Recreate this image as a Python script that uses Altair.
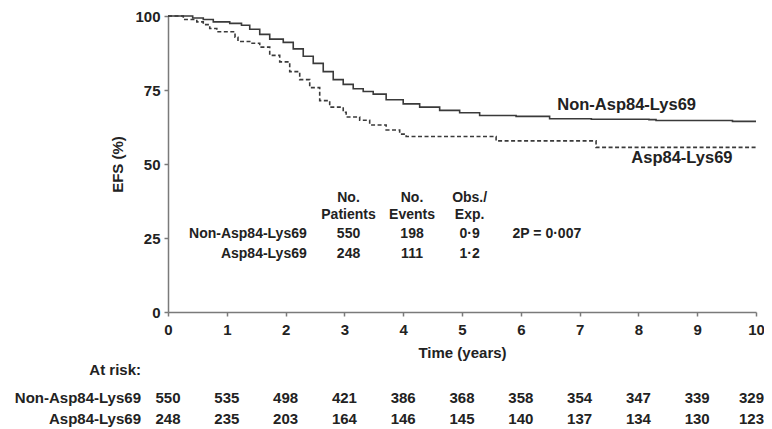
import altair as alt
import pandas as pd

# ---- data ----
years_non = [0, 0.42, 0.6, 0.77, 1.05, 1.25, 1.39, 1.56, 1.73, 1.96, 2.13, 2.3, 2.47, 2.64,
             2.81, 2.98, 3.15, 3.32, 3.49, 3.71, 4.0, 4.28, 4.62, 4.96, 5.3, 5.92, 6.49,
             7.2, 8.18, 8.3, 9.6, 10]
efs_non = [100, 99.3, 98.8, 98.0, 97.5, 96.9, 95.5, 93.8, 92.2, 91.1, 88.9, 86.4, 84.0, 81.2,
           78.5, 76.9, 75.4, 74.5, 73.6, 71.7, 70.3, 69.2, 68.1, 67.3, 66.4, 66.1, 65.3,
           65.1, 65.0, 64.7, 64.4, 64.4]

years_asp = [0, 0.26, 0.49, 0.6, 0.71, 0.83, 1.14, 1.19, 1.39, 1.56, 1.73, 1.9, 2.07, 2.24,
             2.41, 2.58, 2.75, 2.98, 3.03, 3.26, 3.43, 3.71, 3.94, 4.05, 5.58, 7.28, 10]
efs_asp = [100, 98.8, 98.0, 97.1, 95.8, 94.7, 92.8, 91.4, 90.8, 89.5, 86.7, 84.5, 81.2, 78.5,
           75.8, 71.4, 69.2, 67.5, 65.9, 64.8, 63.2, 61.5, 60.1, 59.3, 57.8, 55.6, 55.6]

groups = ["Non-Asp84-Lys69", "Asp84-Lys69"]
patients = ["550", "248"]
events = ["198", "111"]
obs_exp = ["0·9", "1·2"]
p_text = "2P = 0·007"
header_top = ["No.", "No.", "Obs./"]
header_bottom = ["Patients", "Events", "Exp."]

risk_years = [0, 1, 2, 3, 4, 5, 6, 7, 8, 9, 10]
risk_non = [550, 535, 498, 421, 386, 368, 358, 354, 347, 339, 329]
risk_asp = [248, 235, 203, 164, 146, 145, 140, 137, 134, 130, 123]

# ---- styling ----
FONT = "Liberation Sans"
TXT = "#222222"
LINE = "#3a3a3a"
AX = "#7a7a7a"

xs = alt.Scale(domain=[0, 10], nice=False, zero=False)
ys = alt.Scale(domain=[0, 100], nice=False)

curve_non = pd.DataFrame({"t": years_non, "s": efs_non})
curve_asp = pd.DataFrame({"t": years_asp, "s": efs_asp})

base_x = alt.X("t:Q", scale=xs, title="Time (years)",
               axis=alt.Axis(values=list(range(11)), format="d", labelFlush=False,
                             labelOverlap=False, grid=False, tickSize=4,
                             labelPadding=6, titlePadding=8))
base_y = alt.Y("s:Q", scale=ys, title="EFS (%)",
               axis=alt.Axis(values=[0, 25, 50, 75, 100], labelFlush=False,
                             labelOverlap=False, grid=False, tickSize=4,
                             labelPadding=4, titlePadding=9))

line_non = alt.Chart(curve_non).mark_line(
    interpolate="step-after", color=LINE, strokeWidth=1.6
).encode(x=base_x, y=base_y)

line_asp = alt.Chart(curve_asp).mark_line(
    interpolate="step-after", color=LINE, strokeWidth=1.6, strokeDash=[4, 2.5]
).encode(x="t:Q", y="s:Q")

# curve labels
curve_labels = alt.Chart(pd.DataFrame({
    "t": [6.62, 7.88], "s": [69.9, 52.0], "label": groups
})).mark_text(align="left", baseline="middle", font=FONT, fontWeight="bold",
              fontSize=16.5, color=TXT).encode(x="t:Q", y="s:Q", text="label:N")

# summary table inside the plot
col_t = [3.07, 4.15, 5.13]
hdr = pd.DataFrame({
    "t": col_t * 2,
    "s": [38.5] * 3 + [32.8] * 3,
    "label": header_top + header_bottom,
})
header_text = alt.Chart(hdr).mark_text(
    align="center", baseline="middle", font=FONT, fontWeight="bold", fontSize=14, color=TXT
).encode(x="t:Q", y="s:Q", text="label:N")

row_s = [26.4, 19.6]
tbl_rows = pd.DataFrame({
    "t": [2.36] * 2,
    "s": row_s,
    "label": groups,
})
row_labels = alt.Chart(tbl_rows).mark_text(
    align="right", baseline="middle", font=FONT, fontWeight="bold", fontSize=14, color=TXT
).encode(x="t:Q", y="s:Q", text="label:N")

cells = pd.DataFrame({
    "t": [col_t[0]] * 2 + [col_t[1]] * 2 + [col_t[2]] * 2,
    "s": row_s * 3,
    "label": patients + events + obs_exp,
})
cell_text = alt.Chart(cells).mark_text(
    align="center", baseline="middle", font=FONT, fontWeight="bold", fontSize=14, color=TXT
).encode(x="t:Q", y="s:Q", text="label:N")

p_mark = alt.Chart(pd.DataFrame({"t": [5.86], "s": [row_s[0]], "label": [p_text]})).mark_text(
    align="left", baseline="middle", font=FONT, fontWeight="bold", fontSize=14, color=TXT
).encode(x="t:Q", y="s:Q", text="label:N")

# at-risk table below the axis
RISK_Y = [354, 382, 403]
risk_df = pd.DataFrame({
    "t": risk_years * 2,
    "n": risk_non + risk_asp,
    "row": [groups[0]] * 11 + [groups[1]] * 11,
})
inner = risk_df[risk_df["t"] < 10]
last = risk_df[risk_df["t"] == 10]


def risk_layer(df, row, yv, align, dx):
    return alt.Chart(df[df["row"] == row]).mark_text(
        align=align, baseline="middle", dx=dx, font=FONT, fontWeight="bold",
        fontSize=15, color=TXT
    ).encode(x="t:Q", y=alt.value(yv), text="n:Q")


risk_marks = [
    risk_layer(inner, groups[0], RISK_Y[1], "center", 0),
    risk_layer(inner, groups[1], RISK_Y[2], "center", 0),
    risk_layer(last, groups[0], RISK_Y[1], "right", 8),
    risk_layer(last, groups[1], RISK_Y[2], "right", 8),
]

risk_labels = alt.Chart(pd.DataFrame({
    "label": ["At risk:"] + groups, "yy": RISK_Y
})).mark_text(
    align="right", baseline="middle", font=FONT, fontWeight="bold", fontSize=15, color=TXT
).encode(x=alt.value(-27), y=alt.Y("yy:Q", scale=None), text="label:N")

chart = alt.layer(
    line_non, line_asp, curve_labels, header_text, row_labels, cell_text, p_mark,
    *risk_marks, risk_labels
).properties(
    width=588, height=296,
    autosize=alt.AutoSizeParams(type="none"),
    padding={"left": 160, "top": 8, "right": 8, "bottom": 116},
).configure_view(
    stroke=None
).configure_axis(
    domainColor=AX, domainWidth=1.5, tickColor=AX, tickWidth=1.5,
    labelFont=FONT, labelFontWeight="bold", labelFontSize=15, labelColor=TXT,
    titleFont=FONT, titleFontWeight="bold", titleFontSize=15, titleColor=TXT,
)

chart.save("out.html", embed_options={"renderer": "svg", "actions": False})
